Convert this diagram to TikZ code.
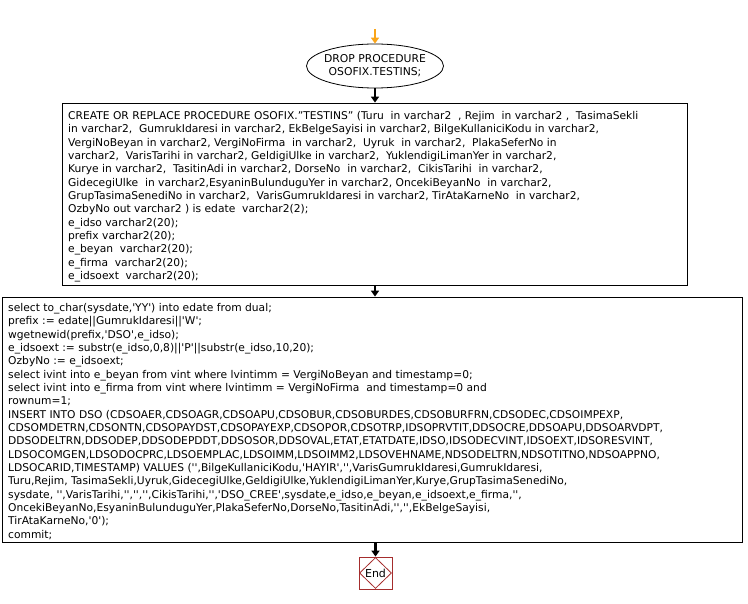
\documentclass[tikz,border=0pt]{standalone}
\usepackage{fontspec}
\setmainfont{DejaVu Sans}
\usetikzlibrary{arrows.meta,shapes.geometric}
\newcommand\sq{\textquotesingle}
\definecolor{flowor}{RGB}{250,165,25}
\definecolor{endred}{RGB}{165,45,45}
\tikzset{
  code/.style={draw=black, line width=0.8pt, rectangle, inner sep=0pt},
  codetext/.style={anchor=north west, inner sep=0pt, align=left,
    font=\fontsize{10.7}{13.35}\selectfont},
  flow/.style={line width=2.4pt, -{Triangle[width=8pt,length=6pt]}},
  startflow/.style={flow, draw=flowor},
  term/.style={draw=black, line width=0.8pt, ellipse, inner xsep=-8pt, inner ysep=0pt, align=center,
    font=\fontsize{10.8}{13}\selectfont},
  endbox/.style={draw=endred, line width=0.8pt, rectangle, inner sep=0pt}
}
\begin{document}
\begin{tikzpicture}[x=1pt,y=-1pt]
\useasboundingbox (0,0) rectangle (748,604);
\coordinate (s) at (375,29);
\node[term, minimum width=137pt, minimum height=44pt] (drop) at (375,66) {DROP PROCEDURE\\OSOFIX.TESTINS;};
\node[code, minimum width=625pt, minimum height=182pt] (box1) at (374.5,194) {};
\node[codetext] (t1) at (68,111) {%
CREATE OR REPLACE PROCEDURE OSOFIX."TESTINS" (Turu\ \ in varchar2\ \ , Rejim\ \ in varchar2 ,\ \ TasimaSekli\\
in varchar2,\ \ GumrukIdaresi in varchar2, EkBelgeSayisi in varchar2, BilgeKullaniciKodu in varchar2,\\
VergiNoBeyan in varchar2, VergiNoFirma\ \ in varchar2,\ \ Uyruk\ \ in varchar2,\ \ PlakaSeferNo in\\
varchar2,\ \ VarisTarihi in varchar2, GeldigiUlke in varchar2,\ \ YuklendigiLimanYer in varchar2,\\
Kurye in varchar2,\ \ TasitinAdi in varchar2, DorseNo\ \ in varchar2,\ \ CikisTarihi\ \ in varchar2,\\
GidecegiUlke\ \ in varchar2,EsyaninBulunduguYer in varchar2, OncekiBeyanNo\ \ in varchar2,\\
GrupTasimaSenediNo in varchar2,\ \ VarisGumrukIdaresi in varchar2, TirAtaKarneNo\ \ in varchar2,\\
OzbyNo out varchar2 ) is edate\ \ varchar2(2);\\
e\_idso varchar2(20);\\
prefix varchar2(20);\\
e\_beyan\ \ varchar2(20);\\
e\_firma\ \ varchar2(20);\\
e\_idsoext\ \ varchar2(20);};
\node[code, minimum width=740pt, minimum height=245pt] (box2) at (372,419.5) {};
\node[codetext] (t2) at (8,303) {%
select to\_char(sysdate,\sq YY\sq) into edate from dual;\\
prefix := edate||GumrukIdaresi||\sq W\sq;\\
wgetnewid(prefix,\sq DSO\sq,e\_idso);\\
e\_idsoext := substr(e\_idso,0,8)||\sq P\sq||substr(e\_idso,10,20);\\
OzbyNo := e\_idsoext;\\
select ivint into e\_beyan from vint where lvintimm = VergiNoBeyan and timestamp=0;\\
select ivint into e\_firma from vint where lvintimm = VergiNoFirma\ \ and timestamp=0 and\\
rownum=1;\\
INSERT INTO DSO (CDSOAER,CDSOAGR,CDSOAPU,CDSOBUR,CDSOBURDES,CDSOBURFRN,CDSODEC,CDSOIMPEXP,\\
CDSOMDETRN,CDSONTN,CDSOPAYDST,CDSOPAYEXP,CDSOPOR,CDSOTRP,IDSOPRVTIT,DDSOCRE,DDSOAPU,DDSOARVDPT,\\
DDSODELTRN,DDSODEP,DDSODEPDDT,DDSOSOR,DDSOVAL,ETAT,ETATDATE,IDSO,IDSODECVINT,IDSOEXT,IDSORESVINT,\\
LDSOCOMGEN,LDSODOCPRC,LDSOEMPLAC,LDSOIMM,LDSOIMM2,LDSOVEHNAME,NDSODELTRN,NDSOTITNO,NDSOAPPNO,\\
LDSOCARID,TIMESTAMP) VALUES (\sq\sq,BilgeKullaniciKodu,\sq HAYIR\sq,\sq\sq,VarisGumrukIdaresi,GumrukIdaresi,\\
Turu,Rejim, TasimaSekli,Uyruk,GidecegiUlke,GeldigiUlke,YuklendigiLimanYer,Kurye,GrupTasimaSenediNo,\\
sysdate, \sq\sq,VarisTarihi,\sq\sq,\sq\sq,\sq\sq,CikisTarihi,\sq\sq,\sq DSO\_CREE\sq,sysdate,e\_idso,e\_beyan,e\_idsoext,e\_firma,\sq\sq,\\
OncekiBeyanNo,EsyaninBulunduguYer,PlakaSeferNo,DorseNo,TasitinAdi,\sq\sq,\sq\sq,EkBelgeSayisi,\\
TirAtaKarneNo,\sq 0\sq);\\
commit;};
\node[endbox, minimum width=33pt, minimum height=32pt] (endsq) at (375.5,573) {};
\node[draw=endred, line width=0.8pt, diamond, inner sep=0pt, minimum width=32pt, minimum height=31pt,
  font=\fontsize{11}{13}\selectfont] (end) at (375.5,573) {End};
\draw[startflow] (s) -- (drop.north);
\draw[flow] (drop.south) -- (box1.north -| drop.south);
\draw[flow] (box1.south -| drop.south) -- (box2.north -| drop.south);
\draw[flow] (box2.south -| endsq.north) -- (endsq.north);
\end{tikzpicture}
\end{document}
